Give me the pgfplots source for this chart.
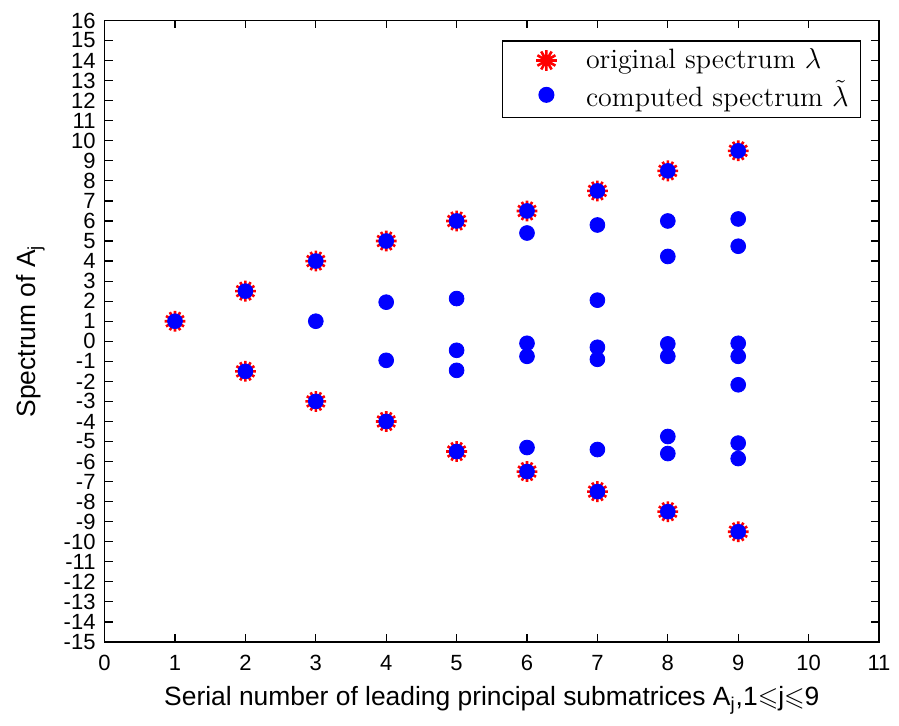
\documentclass[border=0pt]{standalone}
\usepackage{amssymb}
\usepackage{fontspec}
\setmainfont{Liberation Sans}
\newfontfamily\lmr{Latin Modern Roman}
\usepackage{pgfplots}
\pgfplotsset{compat=1.18}

% MATLAB-like '*' marker: red spokes
\pgfdeclareplotmark{spokes}{%
  \foreach \a in {0,30,...,330}{%
    \pgfpathmoveto{\pgfpointorigin}%
    \pgfpathlineto{\pgfpointpolar{\a}{\pgfplotmarksize}}}%
  \pgfusepathqstroke}

\begin{document}
\begin{tikzpicture}
\begin{axis}[
  scale only axis,
  width=387.2pt, height=310.75pt,
  xmin=0, xmax=11, ymin=-15, ymax=16,
  xtick={0,...,11}, ytick={-15,...,16},
  xticklabel={\pgfmathparse{int(\tick)}\pgfmathresult},
  yticklabel={\pgfmathparse{int(\tick)}\pgfmathresult},
  tick align=inside, major tick length=4pt,
  axis line style={line width=0.6pt},
  every tick/.style={line width=0.6pt, black},
  tick label style={font=\fontsize{11}{11}\selectfont},
  xticklabel style={yshift=-3pt},
  yticklabel style={xshift=-1pt},
  xlabel={Serial number of leading principal submatrices A\textsubscript{j},1$\leqslant$j$\leqslant$9},
  ylabel={Spectrum of A\textsubscript{j}},
  label style={font=\fontsize{13.2}{14}\selectfont},
  xlabel style={at={(axis description cs:0.5,-0.1014)}, anchor=base},
  ylabel style={at={(axis description cs:-0.0956,0.5)}, anchor=center, rotate=0},
  legend style={
    at={(axis description cs:0.977,0.968)}, anchor=north east,
    draw=black, line width=0.6pt,
    font=\lmr\fontsize{14}{16}\selectfont,
    inner xsep=4pt, inner ysep=2pt, row sep=0pt,
    cells={anchor=west},
  },
  legend image code/.code={%
    \path (0,0) (35pt,0);
    \draw[#1] plot coordinates {(17.5pt,0pt)};},
]
% original spectrum
\addplot[only marks, mark=spokes, mark size=5.2pt, red,
  mark options={line width=1.3pt, line cap=butt}] coordinates {
  (1,1)
  (2,2.5)(2,-1.5)
  (3,4)(3,-3)
  (4,5)(4,-4)
  (5,6)(5,-5.5)
  (6,6.5)(6,-6.5)
  (7,7.5)(7,-7.5)
  (8,8.5)(8,-8.5)
  (9,9.5)(9,-9.5)
};
\addlegendentry{original spectrum $\lambda$}
% computed spectrum
\addplot[only marks, mark=*, mark size=3.7pt, blue,
  mark options={draw=blue, fill=blue}] coordinates {
  (1,1)
  (2,2.5)(2,-1.5)
  (3,4)(3,1)(3,-3)
  (4,5)(4,1.95)(4,-0.95)(4,-4)
  (5,6)(5,2.13)(5,-0.45)(5,-1.45)(5,-5.5)
  (6,6.5)(6,5.4)(6,-0.1)(6,-0.75)(6,-5.3)(6,-6.5)
  (7,7.5)(7,5.8)(7,2.05)(7,-0.3)(7,-0.9)(7,-5.4)(7,-7.5)
  (8,8.5)(8,6.0)(8,4.23)(8,-0.13)(8,-0.75)(8,-4.75)(8,-5.6)(8,-8.5)
  (9,9.5)(9,6.1)(9,4.74)(9,-0.1)(9,-0.75)(9,-2.17)(9,-5.08)(9,-5.85)(9,-9.5)
};
\addlegendentry{computed spectrum $\tilde{\lambda}$}
\end{axis}
\pgfresetboundingbox
\path[use as bounding box] ([xshift=-52.3pt,yshift=-42pt]current axis.south west)
  rectangle ([xshift=10pt,yshift=10.25pt]current axis.north east);
\end{tikzpicture}
\end{document}
